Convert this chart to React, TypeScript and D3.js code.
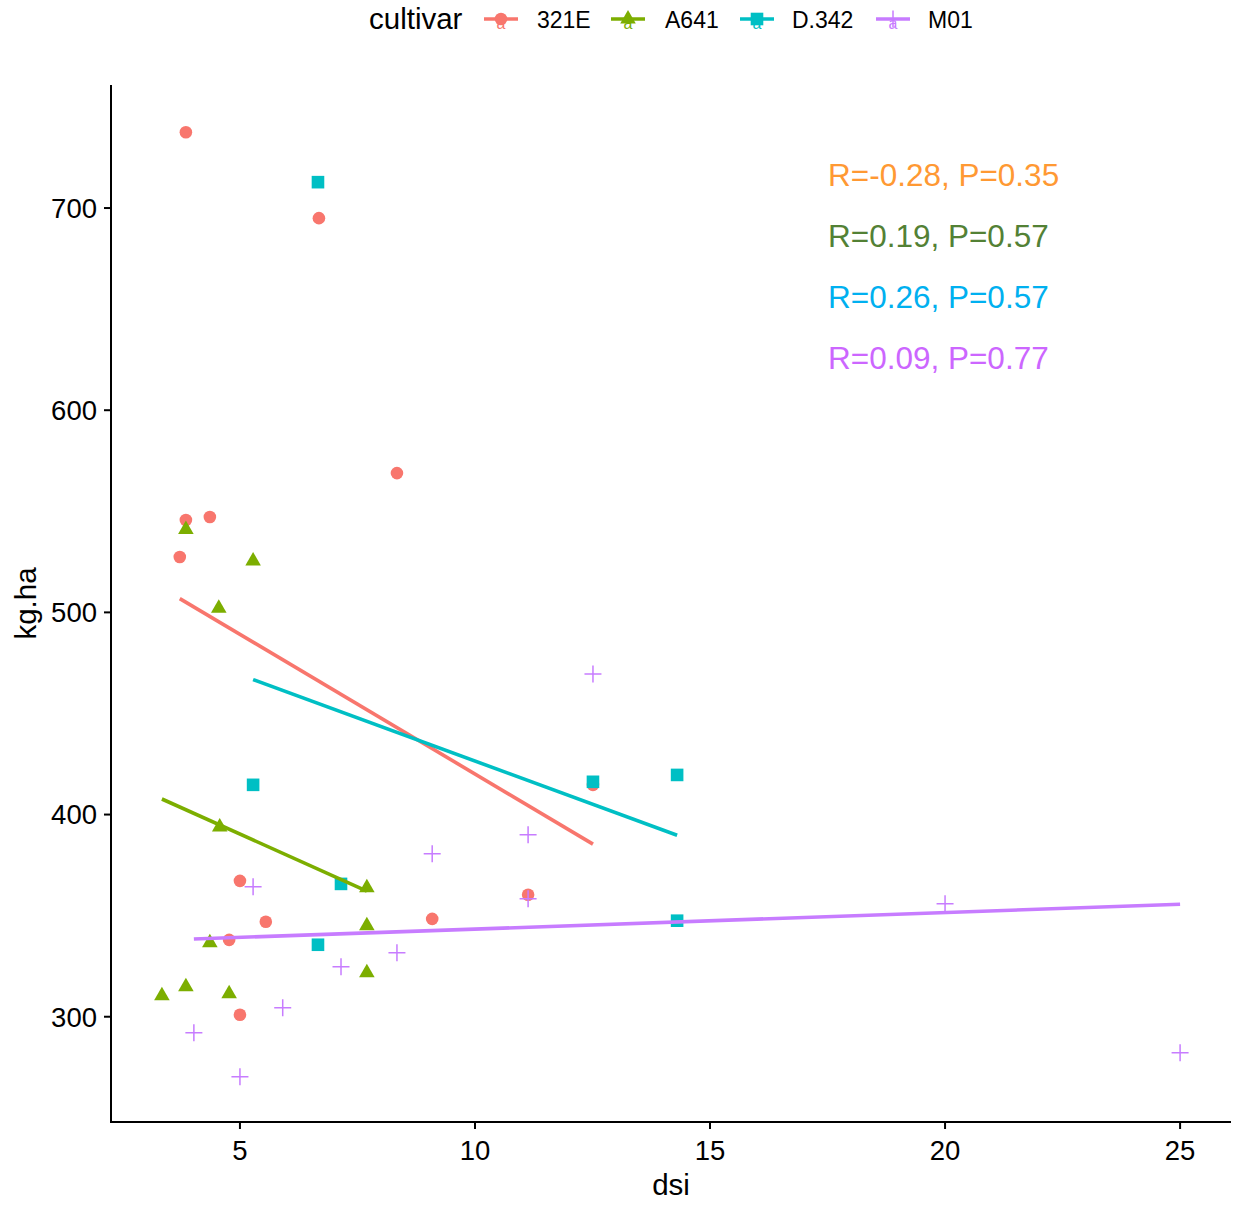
import React from 'react';
import * as d3 from 'd3';

const cultivars = ['321E', 'A641', 'D.342', 'M01'];
const groupColors = ['#F8766D', '#7CAE00', '#00BFC4', '#C77CFF'];
const shapes = ['circle', 'triangle', 'square', 'plus'];

const dsi321E = [3.85, 6.68, 8.34, 3.85, 4.36, 3.72, 12.51, 5.0, 11.13, 5.55, 9.09, 4.77, 5.0];
const kg321E = [737.5, 695, 568.9, 545.7, 547.2, 527.4, 414.7, 367.2, 360.3, 347, 348.4, 338, 301];

const dsiA641 = [3.85, 5.28, 4.55, 4.57, 7.7, 7.7, 4.36, 3.34, 3.85, 4.77, 7.7];
const kgA641 = [541, 525.4, 502, 393.9, 363.8, 345, 336.6, 310.4, 314.8, 311.4, 321.7];

const dsiD342 = [6.66, 5.28, 12.51, 14.3, 7.15, 6.66, 14.3];
const kgD342 = [712.8, 414.7, 416.2, 419.6, 365.7, 335.6, 347.5];

const dsiM01 = [5.28, 12.51, 11.13, 9.09, 11.13, 20.0, 8.34, 7.15, 5.91, 4.02, 5.0, 25.0];
const kgM01 = [364.3, 469.5, 390, 380.6, 358.3, 355.9, 331.6, 324.7, 304.4, 292.1, 270.3, 282.2];

const xTicks = [5, 10, 15, 20, 25];
const yTicks = [300, 400, 500, 600, 700];

const statLabels = ['R=-0.28, P=0.35', 'R=0.19, P=0.57', 'R=0.26, P=0.57', 'R=0.09, P=0.77'];
const statColors = ['#FF9933', '#538135', '#00B0F0', '#CC66FF'];

const groups = [
  { x: dsi321E, y: kg321E },
  { x: dsiA641, y: kgA641 },
  { x: dsiD342, y: kgD342 },
  { x: dsiM01, y: kgM01 },
];

const W = 1235;
const H = 1205;
const left = 111;
const right = 1231;
const top = 85;
const bottom = 1122;
const FONT = '"Liberation Sans", Arial, sans-serif';

function fit(xs: number[], ys: number[]) {
  const mx = d3.mean(xs)!;
  const my = d3.mean(ys)!;
  let sxy = 0, sxx = 0;
  xs.forEach((x, i) => { sxy += (x - mx) * (ys[i] - my); sxx += (x - mx) * (x - mx); });
  const b = sxy / sxx;
  const a = my - b * mx;
  const x0 = d3.min(xs)!;
  const x1 = d3.max(xs)!;
  return [[x0, a + b * x0], [x1, a + b * x1]] as [number, number][];
}

function Marker({ shape, cx, cy, color }: { shape: string; cx: number; cy: number; color: string }) {
  if (shape === 'circle') return <circle cx={cx} cy={cy} r={6.3} fill={color} />;
  if (shape === 'square') return <rect x={cx - 6.3} y={cy - 6.3} width={12.6} height={12.6} fill={color} />;
  if (shape === 'triangle') {
    const p = d3.symbol(d3.symbolTriangle, 105)();
    return <path d={p || ''} transform={`translate(${cx},${cy})`} fill={color} />;
  }
  return (
    <path d={`M${cx - 8.5},${cy}H${cx + 8.5}M${cx},${cy - 8.5}V${cy + 8.5}`} stroke={color} strokeWidth={1.5} fill="none" />
  );
}

export default function App() {
  const allX = groups.flatMap((g) => g.x);
  const allY = groups.flatMap((g) => g.y);
  const [xmin, xmax] = d3.extent(allX) as [number, number];
  const [ymin, ymax] = d3.extent(allY) as [number, number];
  const xe = (xmax - xmin) * 0.05;
  const ye = (ymax - ymin) * 0.05;
  const xs = d3.scaleLinear().domain([xmin - xe, xmax + xe]).range([left, right]);
  const ys = d3.scaleLinear().domain([ymin - ye, ymax + ye]).range([bottom + 2, top]);
  const line = d3.line<[number, number]>().x((d) => xs(d[0])).y((d) => ys(d[1]));

  const legendKeys = [501, 628, 757, 893];
  const legendLabels = [537, 665, 792, 928];

  return (
    <svg width={W} height={H} style={{ position: 'absolute', left: 0, top: 0, background: '#fff' }} fontFamily={FONT}>
      <rect width={W} height={H} fill="#fff" />
      {/* legend */}
      <text x={369} y={29} fontSize={29.5} fill="#000">cultivar</text>
      {cultivars.map((c, i) => (
        <g key={c}>
          <line x1={legendKeys[i] - 17} x2={legendKeys[i] + 17} y1={19} y2={19} stroke={groupColors[i]} strokeWidth={3.5} />
          <Marker shape={shapes[i]} cx={legendKeys[i]} cy={19} color={groupColors[i]} />
          <text x={legendKeys[i]} y={29} fontSize={16} textAnchor="middle" fill={groupColors[i]}>a</text>
          <text x={legendLabels[i]} y={28} fontSize={23} fill="#000">{c}</text>
        </g>
      ))}

      {/* points */}
      {groups.map((g, gi) => (
        <g key={'p' + gi}>
          {g.x.map((x, i) => (
            <Marker key={i} shape={shapes[gi]} cx={xs(x)} cy={ys(g.y[i])} color={groupColors[gi]} />
          ))}
        </g>
      ))}

      {/* regression lines */}
      {groups.map((g, gi) => (
        <path key={'l' + gi} d={line(fit(g.x, g.y)) || ''} stroke={groupColors[gi]} strokeWidth={3.6} fill="none" />
      ))}

      {/* annotations */}
      {statLabels.map((s, i) => (
        <text key={s + i} x={828} y={186 + i * 61} fontSize={31.5} fill={statColors[i]}>{s}</text>
      ))}

      {/* axes */}
      <line x1={left} x2={left} y1={top} y2={bottom + 1} stroke="#000" strokeWidth={2} />
      <line x1={left - 1} x2={right} y1={bottom} y2={bottom} stroke="#000" strokeWidth={2} />
      {yTicks.map((t) => (
        <g key={'y' + t}>
          <line x1={left - 7} x2={left} y1={ys(t)} y2={ys(t)} stroke="#000" strokeWidth={2} />
          <text x={97} y={ys(t)} dy="0.36em" textAnchor="end" fontSize={27.5} fill="#000">{t}</text>
        </g>
      ))}
      {xTicks.map((t) => (
        <g key={'x' + t}>
          <line x1={xs(t)} x2={xs(t)} y1={bottom} y2={bottom + 7} stroke="#000" strokeWidth={2} />
          <text x={xs(t)} y={1160} textAnchor="middle" fontSize={27.5} fill="#000">{t}</text>
        </g>
      ))}
      <text x={(left + right) / 2} y={1195} textAnchor="middle" fontSize={29.5} fill="#000">dsi</text>
      <text transform={`translate(36,${(top + bottom) / 2}) rotate(-90)`} textAnchor="middle" fontSize={29.5} fill="#000">kg.ha</text>
    </svg>
  );
}
